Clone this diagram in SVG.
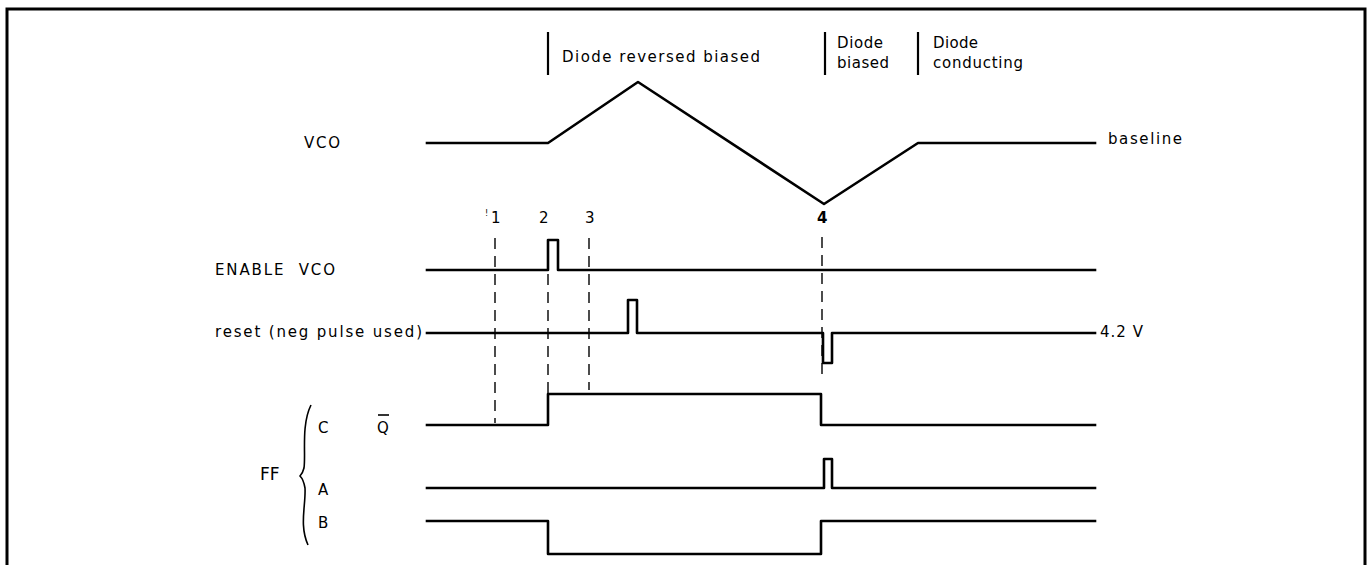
<svg xmlns="http://www.w3.org/2000/svg" width="1368" height="565" viewBox="0 0 1368 565">
  <style>
    text { font-family: "DejaVu Sans", "Liberation Sans", sans-serif; font-size: 15px; fill: #000; }
    .wave { fill: none; stroke: #000; stroke-width: 2.6; stroke-linejoin: round; stroke-linecap: square; }
    .bar { stroke: #000; stroke-width: 2.2; }
    .dash { stroke: #000; stroke-width: 1.4; stroke-dasharray: 11 7; fill: none; }
    .frame { fill: none; stroke: #000; stroke-width: 3; }
    .mk { font-size: 15px; }
  </style>
  <rect x="0" y="0" width="1368" height="565" fill="#fff"/>
  <g id="frame">
    <path class="frame" d="M7,568 L7,9 L1365,9 L1365,568"/>
  </g>

  <g id="header">
    <line class="bar" x1="548" y1="32" x2="548" y2="75"/>
    <text x="562" y="62" textLength="198" lengthAdjust="spacing">Diode reversed biased</text>
    <line class="bar" x1="825" y1="32" x2="825" y2="75"/>
    <text x="837" y="48" textLength="46" lengthAdjust="spacing">Diode</text>
    <text x="837" y="68" textLength="52" lengthAdjust="spacing">biased</text>
    <line class="bar" x1="918" y1="32" x2="918" y2="75"/>
    <text x="933" y="48" textLength="45" lengthAdjust="spacing">Diode</text>
    <text x="933" y="68" textLength="90" lengthAdjust="spacing">conducting</text>
  </g>

  <g id="vco">
    <text x="304" y="148" textLength="36" lengthAdjust="spacing">VCO</text>
    <path class="wave" d="M427,143 L548,143 L638,82 L824,204 L918,143 L1095,143"/>
    <text x="1108" y="144" textLength="74" lengthAdjust="spacing">baseline</text>
  </g>

  <g id="markers">
    <text x="485" y="216" style="font-size:8px">!</text>
    <text class="mk" x="491" y="223">1</text>
    <text class="mk" x="539" y="223">2</text>
    <text class="mk" x="585" y="223">3</text>
    <text class="mk" x="817" y="223" style="font-weight:bold">4</text>
  </g>

  <g id="connectors">
    <line class="dash" x1="495" y1="238" x2="495" y2="423"/>
    <line class="dash" x1="548" y1="274" x2="548" y2="394"/>
    <line class="dash" x1="589" y1="238" x2="589" y2="390"/>
    <line class="dash" x1="822" y1="237" x2="822" y2="380"/>
  </g>

  <g id="enable-vco">
    <text x="215" y="275" textLength="120" lengthAdjust="spacing" xml:space="preserve">ENABLE  VCO</text>
    <path class="wave" d="M427,270 L548,270 L548,240 L558,240 L558,270 L1095,270"/>
  </g>

  <g id="reset">
    <text x="215" y="337" textLength="207" lengthAdjust="spacing">reset (neg pulse used)</text>
    <path class="wave" d="M427,333 L628,333 L628,300 L637,300 L637,333 L823,333 L823,363 L832,363 L832,333 L1095,333"/>
    <text x="1100" y="337" textLength="43" lengthAdjust="spacing">4.2 V</text>
  </g>

  <g id="ff-label">
    <text x="260" y="480" style="font-size:17px">FF</text>
    <path d="M311,405 C301,425 306,455 304,468 C303,472 301,475 300,476 C302,478 304,482 305,488 C306,505 299,525 308,545" fill="none" stroke="#000" stroke-width="1.6"/>
  </g>

  <g id="ff-c">
    <text x="318" y="433">C</text>
    <text x="377" y="433">Q</text>
    <line x1="378" y1="415" x2="389" y2="415" stroke="#000" stroke-width="1.6"/>
    <path class="wave" d="M427,425 L548,425 L548,394 L821,394 L821,425 L1095,425"/>
  </g>

  <g id="ff-a">
    <text x="318" y="495">A</text>
    <path class="wave" d="M427,488 L824,488 L824,459 L832,459 L832,488 L1095,488"/>
  </g>

  <g id="ff-b">
    <text x="318" y="528">B</text>
    <path class="wave" d="M427,521 L548,521 L548,554 L821,554 L821,521 L1095,521"/>
  </g>
</svg>
